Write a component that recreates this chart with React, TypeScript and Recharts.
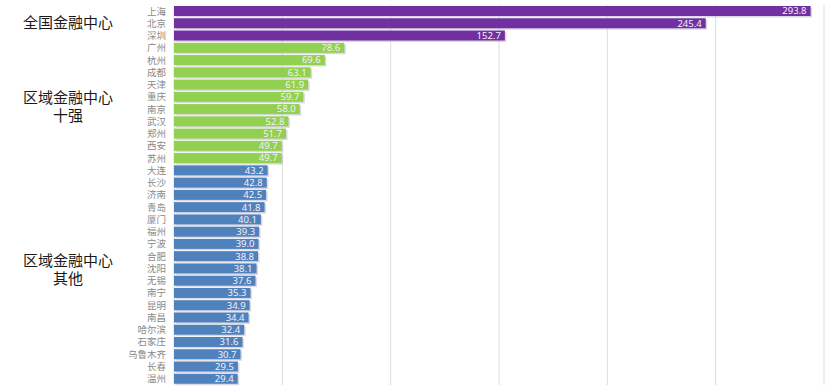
import React from "react";
import { BarChart, Bar, XAxis, YAxis, CartesianGrid, Cell, LabelList } from "recharts";

const cities = ["上海","北京","深圳","广州","杭州","成都","天津","重庆","南京","武汉","郑州","西安","苏州","大连","长沙","济南","青岛","厦门","福州","宁波","合肥","沈阳","无锡","南宁","昆明","南昌","哈尔滨","石家庄","乌鲁木齐","长春","温州"];
const values = [293.8,245.4,152.7,78.6,69.6,63.1,61.9,59.7,58.0,52.8,51.7,49.7,49.7,43.2,42.8,42.5,41.8,40.1,39.3,39.0,38.8,38.1,37.6,35.3,34.9,34.4,32.4,31.6,30.7,29.5,29.4];
const groups = [0,0,0,1,1,1,1,1,1,1,1,1,1,2,2,2,2,2,2,2,2,2,2,2,2,2,2,2,2,2,2];
const groupNames = ["全国金融中心","区域金融中心\n十强","区域金融中心\n其他"];
const groupColors = ["#7030A0","#92D050","#4F81BD"];
const xTicks = [0,50,100,150,200,250,300];

const data = cities.map((c, i) => ({ city: c, value: values[i], group: groups[i] }));

const ShadowBar = (props: any) => {
  const { x, y, width, height, fill } = props;
  if (width == null || width <= 0) return null;
  return (
    <g>
      <rect x={x + 1.5} y={y + 1.5} width={width} height={height} fill="#c4bcd2" opacity={0.6} />
      <rect x={x} y={y} width={width} height={height} fill={fill} />
    </g>
  );
};

export default function App() {
  const W = 830, H = 390;
  const mTop = 5, mBottom = 5;
  const band = (H - mTop - mBottom) / cities.length;
  const centers = [0, 1, 2].map((g) => {
    const idx = groups.map((v, i) => (v === g ? i : -1)).filter((i) => i >= 0);
    return mTop + band * ((idx[0] + idx[idx.length - 1]) / 2 + 0.5);
  });
  const offsets = [-1, 3, -6];
  return (
    <div style={{ position: "absolute", left: 0, top: 0, width: W, height: H, background: "#fff", fontFamily: "'Noto Sans CJK SC', sans-serif" }}>
      <BarChart width={W} height={H} data={data} layout="vertical" margin={{ top: mTop, right: 6, bottom: mBottom, left: 0 }} barSize={10}>
        <CartesianGrid horizontal={false} stroke="#dcdcdc" />
        <XAxis type="number" domain={[0, 300]} ticks={xTicks} hide />
        <YAxis type="category" dataKey="city" width={174} axisLine={false} tickLine={false} interval={0}
          tick={{ fontSize: 9.5, fill: "#8a8a8a", fontFamily: "'Noto Sans CJK SC', sans-serif" }} />
        <Bar dataKey="value" isAnimationActive={false} shape={<ShadowBar />}>
          {data.map((d, i) => (
            <Cell key={i} fill={groupColors[d.group]} />
          ))}
          <LabelList dataKey="value" position="insideRight" offset={4}
            formatter={(v: any) => Number(v).toFixed(1)}
            style={{ fontSize: 9.5, fill: "#f4f0f8", fontFamily: "'Noto Sans', sans-serif" }} />
        </Bar>
      </BarChart>
      {groupNames.map((label, g) => {
        const n = label.split("\n").length;
        return (
          <div key={g} style={{ position: "absolute", left: 8, width: 120, top: centers[g] + offsets[g] - n * 9, textAlign: "center", fontSize: 15, lineHeight: "18px", color: "#1a1a1a", whiteSpace: "pre-line" }}>
            {label}
          </div>
        );
      })}
    </div>
  );
}
